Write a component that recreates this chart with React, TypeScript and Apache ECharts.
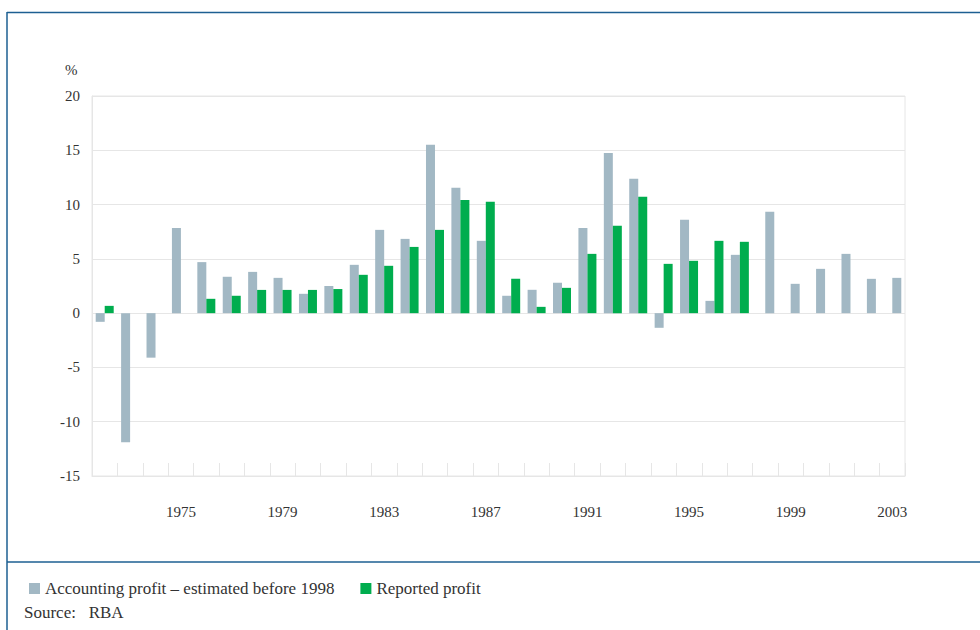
import React, { useEffect, useRef } from "react";
import * as echarts from "echarts";

const years: string[] = [];
for (let y = 1972; y <= 2003; y++) years.push(String(y));

// Accounting profit – estimated (before 1998), left slot
const accountingEstimated: (number | null)[] = [
  -0.8, -11.9, -4.1, 7.85, 4.7, 3.35, 3.8, 3.25, 1.78, 2.5,
  4.45, 7.67, 6.84, 15.5, 11.55, 6.66, 1.6, 2.15, 2.8, 7.85,
  14.76, 12.37, -1.35, 8.6, 1.13, 5.37,
  null, null, null, null, null, null,
];

// Reported profit, right slot
const reported: (number | null)[] = [
  0.67, 0, 0, 0, 1.32, 1.6, 2.14, 2.14, 2.14, 2.22,
  3.53, 4.36, 6.1, 7.67, 10.43, 10.25, 3.16, 0.58, 2.33, 5.46,
  8.04, 10.71, 4.54, 4.82, 6.66, 6.57,
  null, null, null, null, null, null,
];

// Accounting profit from 1998 (drawn in the right slot)
const accountingLater: (number | null)[] = [
  null, null, null, null, null, null, null, null, null, null,
  null, null, null, null, null, null, null, null, null, null,
  null, null, null, null, null, null,
  9.33, 2.7, 4.08, 5.46, 3.16, 3.25,
];

const GRAY = "#a2b8c4";
const GREEN = "#00ad4e";
const FONT = "'Liberation Serif', 'DejaVu Serif', serif";
const FRAME = "#1d5f92";

export default function App() {
  const ref = useRef<HTMLDivElement>(null);
  useEffect(() => {
    if (!ref.current) return;
    const chart = echarts.init(ref.current, null, { renderer: "svg" });
    chart.setOption({
      animation: false,
      backgroundColor: "#ffffff",
      grid: {
        left: 92,
        right: 75,
        top: 96,
        bottom: 154,
        show: true,
        borderColor: "#e6e6e6",
        borderWidth: 1,
      },
      legend: {
        data: ["Accounting profit – estimated before 1998", "Reported profit"],
        left: 24,
        top: 575,
        icon: "rect",
        itemWidth: 11,
        itemHeight: 11,
        itemGap: 26,
        textStyle: { fontFamily: FONT, fontSize: 17, color: "#333" },
      },
      xAxis: {
        type: "category",
        data: years,
        boundaryGap: true,
        axisLine: { show: true, onZero: false, lineStyle: { color: "#e6e6e6" } },
        axisTick: {
          show: true,
          inside: true,
          length: 13,
          interval: 0,
          lineStyle: { color: "#e6e6e6" },
        },
        axisLabel: {
          interval: (i: number) => (i - 3) % 4 === 0,
          margin: 28,
          fontFamily: FONT,
          fontSize: 15,
          color: "#333",
        },
        splitLine: { show: false },
      },
      yAxis: {
        type: "value",
        min: -15,
        max: 20,
        interval: 5,
        axisLine: { show: true, lineStyle: { color: "#e6e6e6" } },
        axisTick: { show: false },
        axisLabel: {
          margin: 12,
          fontFamily: FONT,
          fontSize: 15,
          color: "#333",
        },
        splitLine: { show: true, lineStyle: { color: "#e6e6e6", width: 1 } },
      },
      series: [
        {
          name: "Accounting profit – estimated before 1998",
          type: "bar",
          data: accountingEstimated,
          barWidth: 9,
          barGap: "0%",
          itemStyle: { color: GRAY },
        },
        {
          name: "Reported profit",
          type: "bar",
          stack: "right",
          data: reported,
          barWidth: 9,
          barGap: "0%",
          itemStyle: { color: GREEN },
        },
        {
          name: "Accounting profit later",
          type: "bar",
          stack: "right",
          data: accountingLater,
          barWidth: 9,
          barGap: "0%",
          itemStyle: { color: GRAY },
        },
      ],
      graphic: [
        {
          type: "line",
          shape: { x1: 7, y1: 12.5, x2: 980, y2: 12.5 },
          style: { stroke: FRAME, lineWidth: 1.5 },
        },
        {
          type: "line",
          shape: { x1: 7, y1: 12, x2: 7, y2: 630 },
          style: { stroke: FRAME, lineWidth: 1.5 },
        },
        {
          type: "line",
          shape: { x1: 7, y1: 562, x2: 980, y2: 562 },
          style: { stroke: FRAME, lineWidth: 1.5 },
        },
        {
          type: "text",
          left: 65,
          top: 62,
          style: { text: "%", fontFamily: FONT, fontSize: 15, fill: "#333" },
        },
        {
          type: "text",
          left: 24,
          top: 604,
          style: {
            text: "Source:   RBA",
            fontFamily: FONT,
            fontSize: 17,
            fill: "#333",
          },
        },
      ],
    });
    return () => chart.dispose();
  }, []);
  return (
    <div
      ref={ref}
      style={{ position: "fixed", left: 0, top: 0, width: 980, height: 630 }}
    />
  );
}
